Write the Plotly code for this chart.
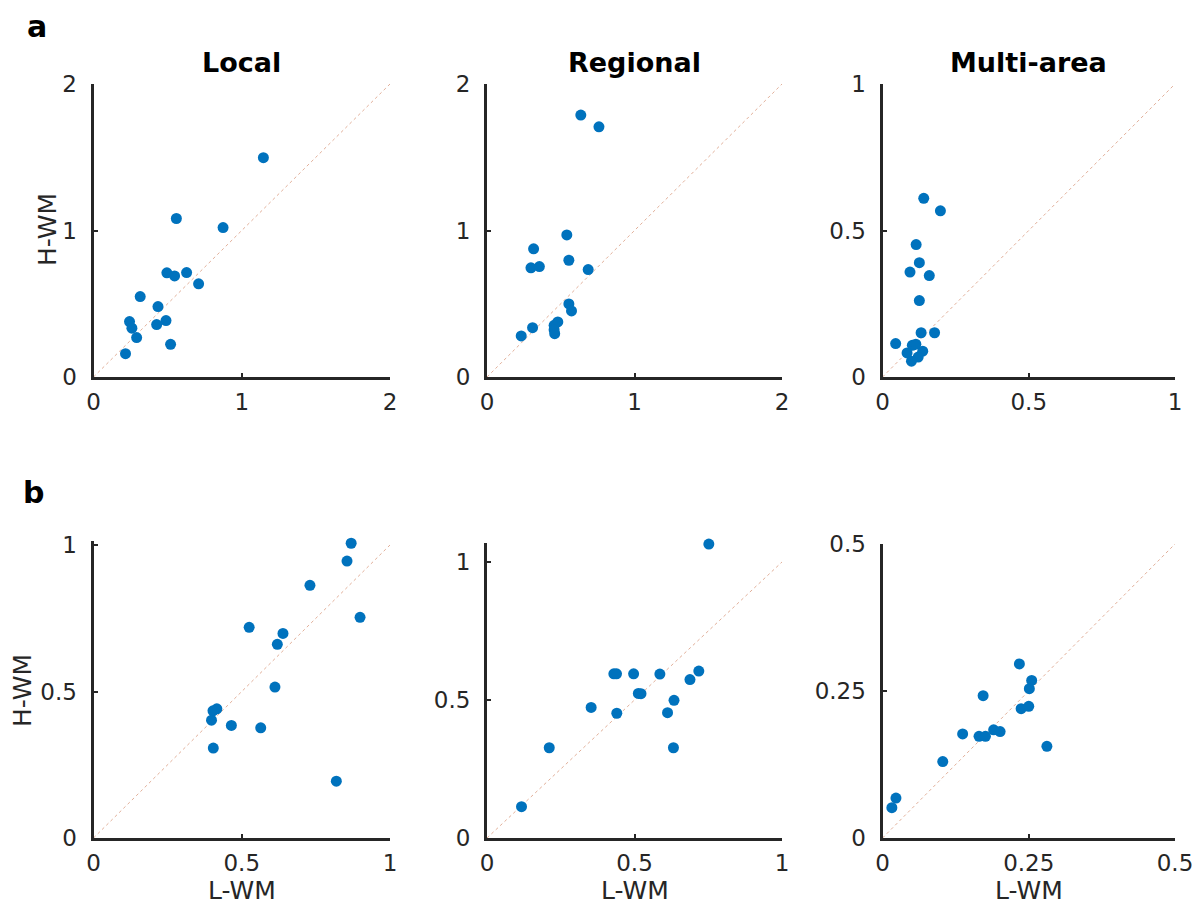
import plotly.graph_objects as go

# ---------------- data ----------------
a_local_x = [1.146, 0.559, 0.874, 0.495, 0.547, 0.628, 0.709, 0.315, 0.435, 0.243, 0.259, 0.426, 0.489, 0.291, 0.520, 0.216]
a_local_y = [1.497, 1.082, 1.020, 0.711, 0.690, 0.713, 0.636, 0.549, 0.481, 0.378, 0.333, 0.358, 0.385, 0.269, 0.223, 0.159]

a_regional_x = [0.636, 0.759, 0.541, 0.316, 0.298, 0.355, 0.555, 0.686, 0.555, 0.573, 0.309, 0.232, 0.455, 0.480, 0.455, 0.459]
a_regional_y = [1.788, 1.708, 0.970, 0.875, 0.745, 0.754, 0.797, 0.733, 0.499, 0.451, 0.337, 0.280, 0.353, 0.376, 0.323, 0.296]

a_multi_x = [0.141, 0.198, 0.115, 0.126, 0.094, 0.160, 0.126, 0.132, 0.178, 0.045, 0.102, 0.114, 0.084, 0.1375, 0.122, 0.099]
a_multi_y = [0.610, 0.567, 0.452, 0.390, 0.358, 0.346, 0.261, 0.151, 0.151, 0.114, 0.108, 0.112, 0.082, 0.088, 0.068, 0.054]

b_local_x = [0.869, 0.855, 0.730, 0.899, 0.525, 0.639, 0.620, 0.612, 0.416, 0.403, 0.398, 0.465, 0.564, 0.404, 0.819]
b_local_y = [1.006, 0.945, 0.8625, 0.753, 0.719, 0.698, 0.661, 0.515, 0.441, 0.434, 0.402, 0.384, 0.376, 0.307, 0.194]

b_regional_x = [0.752, 0.430, 0.439, 0.497, 0.586, 0.718, 0.688, 0.513, 0.522, 0.353, 0.440, 0.634, 0.612, 0.211, 0.632, 0.117]
b_regional_y = [1.065, 0.595, 0.595, 0.595, 0.594, 0.605, 0.574, 0.524, 0.523, 0.473, 0.452, 0.499, 0.454, 0.327, 0.327, 0.1135]

b_multi_x = [0.234, 0.255, 0.251, 0.172, 0.237, 0.250, 0.137, 0.165, 0.176, 0.190, 0.201, 0.281, 0.103, 0.023, 0.016]
b_multi_y = [0.296, 0.268, 0.254, 0.242, 0.220, 0.224, 0.177, 0.173, 0.173, 0.184, 0.181, 0.156, 0.130, 0.068, 0.0515]

col_titles = ["Local", "Regional", "Multi-area"]
row_labels = ["a", "b"]
x_title = "L-WM"
y_title = "H-WM"

# axis limits and ticks per panel (row a then row b)
x_max = [2, 2, 1, 1, 1, 0.5]
y_max = [2, 2, 1, 1.012, 1.07, 0.5]
diag_max = [2, 2, 1, 1, 1, 0.5]
x_ticks = [[0, 1, 2], [0, 1, 2], [0, 0.5, 1], [0, 0.5, 1], [0, 0.5, 1], [0, 0.25, 0.5]]
y_ticks = [[0, 1, 2], [0, 1, 2], [0, 0.5, 1], [0, 0.5, 1], [0, 0.5, 1], [0, 0.25, 0.5]]

panels_x = [a_local_x, a_regional_x, a_multi_x, b_local_x, b_regional_x, b_multi_x]
panels_y = [a_local_y, a_regional_y, a_multi_y, b_local_y, b_regional_y, b_multi_y]

# ---------------- layout geometry (pixels) ----------------
W, H = 1197, 907
col_px = [(93.5, 390), (487, 782), (882.5, 1175)]
# pixel row of y = 0 and of the highest tick, per panel
y0_px = [377, 377, 377, 838, 838, 838]
ytop_px = [84, 84, 84, 545, 562, 544]

FONT = "DejaVu Sans"
AX_COLOR = "#262626"
BLUE = "#0072BD"
DIAG = "rgba(200,110,70,0.55)"

fig = go.Figure()
layout = dict(
    width=W, height=H, autosize=False,
    margin=dict(l=0, r=0, t=0, b=0, pad=0, autoexpand=False),
    paper_bgcolor="white", plot_bgcolor="white",
    showlegend=False,
    font=dict(family=FONT, size=23, color=AX_COLOR),
)

annotations = []


def fmt(v):
    return "%g" % v


for i in range(6):
    r, c = divmod(i, 3)
    k = i + 1
    xa = "xaxis" if k == 1 else f"xaxis{k}"
    ya = "yaxis" if k == 1 else f"yaxis{k}"
    xref = "x" if k == 1 else f"x{k}"
    yref = "y" if k == 1 else f"y{k}"
    x0, x1 = col_px[c]
    bot = y0_px[i]
    px_per_unit = (bot - ytop_px[i]) / y_ticks[i][-1]
    top = bot - px_per_unit * y_max[i]
    common = dict(
        showline=True, linewidth=3, linecolor=AX_COLOR,
        ticks="inside", ticklen=4, tickwidth=2, tickcolor=AX_COLOR,
        showgrid=False, zeroline=False, mirror=False,
        tickfont=dict(family=FONT, size=23, color=AX_COLOR),
        fixedrange=True, automargin=False,
    )
    layout[xa] = dict(
        common, domain=[x0 / W, x1 / W], anchor=yref,
        range=[0, x_max[i]], tickvals=x_ticks[i],
        ticktext=[fmt(v) for v in x_ticks[i]], ticklabelstandoff=2,
    )
    layout[ya] = dict(
        common, domain=[1 - bot / H, 1 - top / H], anchor=xref,
        range=[0, y_max[i]], tickvals=y_ticks[i],
        ticktext=[fmt(v) for v in y_ticks[i]], ticklabelstandoff=9,
    )
    # identity line
    fig.add_trace(go.Scatter(
        x=[0, diag_max[i]], y=[0, diag_max[i]], mode="lines",
        line=dict(color=DIAG, width=1, dash="dot"),
        xaxis=xref, yaxis=yref, hoverinfo="skip",
    ))
    fig.add_trace(go.Scatter(
        x=panels_x[i], y=panels_y[i], mode="markers",
        marker=dict(color=BLUE, size=11, line=dict(width=0)),
        xaxis=xref, yaxis=yref, cliponaxis=False,
    ))

# column titles
for c, t in enumerate(col_titles):
    x0, x1 = col_px[c]
    annotations.append(dict(
        text=f"<b>{t}</b>", x=(x0 + x1) / 2 / W, y=1 - 62 / H,
        xref="paper", yref="paper", showarrow=False,
        xanchor="center", yanchor="middle",
        font=dict(family=FONT, size=27, color="black"),
    ))

# row labels
for (lx, ly), t in zip([(37, 27), (33, 492)], row_labels):
    annotations.append(dict(
        text=f"<b>{t}</b>", x=lx / W, y=1 - ly / H,
        xref="paper", yref="paper", showarrow=False,
        xanchor="center", yanchor="middle",
        font=dict(family=FONT, size=30, color="black"),
    ))

# y-axis titles
for (tx, ty) in [(48, 230), (22, 691)]:
    annotations.append(dict(
        text=y_title, x=tx / W, y=1 - ty / H, textangle=-90,
        xref="paper", yref="paper", showarrow=False,
        xanchor="center", yanchor="middle",
        font=dict(family=FONT, size=25, color=AX_COLOR),
    ))

# x-axis titles (row b)
for c in range(3):
    x0, x1 = col_px[c]
    annotations.append(dict(
        text=x_title, x=(x0 + x1) / 2 / W, y=1 - 890 / H,
        xref="paper", yref="paper", showarrow=False,
        xanchor="center", yanchor="middle",
        font=dict(family=FONT, size=25, color=AX_COLOR),
    ))

layout["annotations"] = annotations
fig.update_layout(**layout)
fig.write_html("out.html")
